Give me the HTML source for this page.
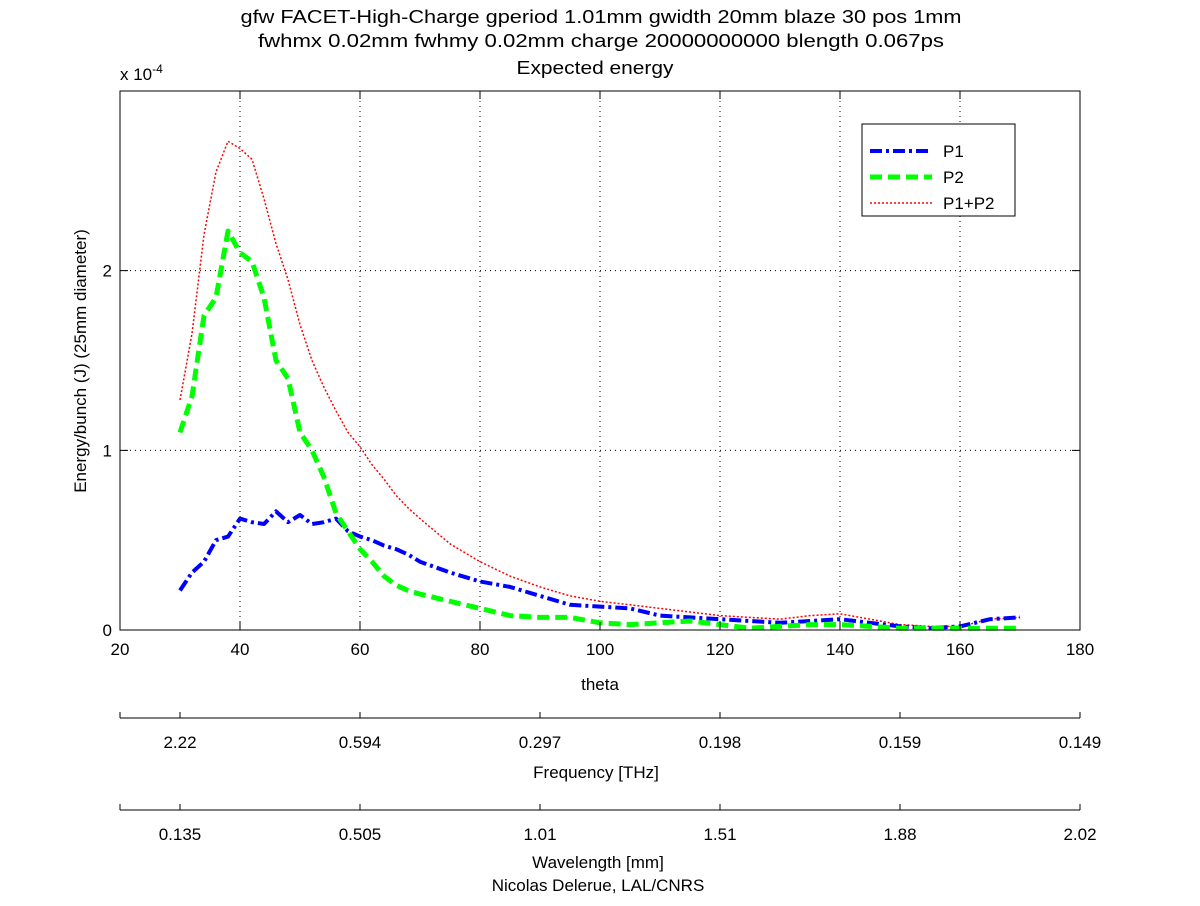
<!DOCTYPE html>
<html><head><meta charset="utf-8"><style>
body{margin:0;background:#fff;}
svg text{font-family:"Liberation Sans",sans-serif;font-size:17px;fill:#000;}
</style></head><body>
<svg width="1200" height="901" viewBox="0 0 1200 901">
<rect width="1200" height="901" fill="#fff"/>
<g id="titles">
<text x="601" y="23" text-anchor="middle" font-size="18" textLength="721" lengthAdjust="spacingAndGlyphs" style="font-size:18px">gfw FACET-High-Charge gperiod 1.01mm gwidth 20mm blaze 30 pos 1mm</text>
<text x="601" y="47" text-anchor="middle" textLength="686" lengthAdjust="spacingAndGlyphs" style="font-size:18px">fwhmx 0.02mm fwhmy 0.02mm charge 20000000000 blength 0.067ps</text>
<text x="595" y="74" text-anchor="middle" textLength="157" lengthAdjust="spacingAndGlyphs" style="font-size:18px">Expected energy</text>
</g>
<text x="120" y="80">x 10<tspan dy="-7" font-size="12">-4</tspan></text>
<g id="grid"></g>
<g id="series"></g>
<g id="axes"></g>
<text x="600" y="690" text-anchor="middle">theta</text>
<text transform="translate(86,361) rotate(-90)" text-anchor="middle">Energy/bunch (J) (25mm diameter)</text>
<g id="sec"></g>
<text x="596" y="778" text-anchor="middle">Frequency [THz]</text>
<text x="598" y="868" text-anchor="middle">Wavelength [mm]</text>
<text x="598" y="891" text-anchor="middle">Nicolas Delerue, LAL/CNRS</text>
<g>
<rect x="862" y="124" width="153" height="92" fill="#fff" stroke="#000" stroke-width="1"/>
<line x1="870" y1="151" x2="932" y2="151" stroke="#00f" stroke-width="4" stroke-dasharray="12,4,3,4"/>
<text x="943" y="157">P1</text>
<line x1="870" y1="177" x2="932" y2="177" stroke="#0f0" stroke-width="5" stroke-dasharray="12,6"/>
<text x="943" y="183">P2</text>
<line x1="870" y1="203" x2="932" y2="203" stroke="#f00" stroke-width="1.5" stroke-dasharray="2,2"/>
<text x="943" y="209">P1+P2</text>
</g>
</svg>
<script>
const xTicks=[20,40,60,80,100,120,140,160,180];
const yTicks=[0,1,2];
const theta=[30,32,34,36,38,40,42,44,46,48,50,52,54,56,58,60,62,64,66,68,70,75,80,85,90,95,100,105,110,115,120,125,130,135,140,145,150,155,160,165,170];
const p1=[0.22,0.32,0.38,0.5,0.52,0.62,0.6,0.59,0.66,0.6,0.64,0.59,0.6,0.62,0.55,0.52,0.5,0.47,0.45,0.42,0.38,0.32,0.27,0.24,0.19,0.14,0.13,0.12,0.08,0.07,0.06,0.05,0.04,0.05,0.06,0.04,0.02,0.01,0.02,0.06,0.07];
const p2=[1.1,1.3,1.75,1.85,2.22,2.1,2.05,1.85,1.5,1.4,1.1,1.0,0.85,0.65,0.55,0.45,0.38,0.3,0.25,0.22,0.2,0.16,0.12,0.08,0.07,0.07,0.04,0.03,0.04,0.05,0.03,0.01,0.02,0.03,0.03,0.02,0.01,0.01,0.01,0.01,0.01];
const psum=[1.28,1.65,2.2,2.55,2.72,2.68,2.62,2.4,2.15,1.95,1.7,1.5,1.35,1.22,1.1,1.02,0.92,0.84,0.75,0.68,0.62,0.48,0.38,0.3,0.24,0.19,0.16,0.14,0.12,0.1,0.08,0.07,0.06,0.08,0.09,0.06,0.03,0.02,0.02,0.06,0.07];
const freqLabels=["2.22","0.594","0.297","0.198","0.159","0.149"];
const waveLabels=["0.135","0.505","1.01","1.51","1.88","2.02"];
const secPos=[30,60,90,120,150,180];
const NS="http://www.w3.org/2000/svg";
const L=120,R=1080,T=91,B=630;
const X=v=>L+(v-20)/160*(R-L);
const Y=v=>B-v/3*(B-T);
function mk(tag,attrs,parent){const e=document.createElementNS(NS,tag);for(const k in attrs)e.setAttribute(k,attrs[k]);parent.appendChild(e);return e;}
const grid=document.getElementById('grid'),axes=document.getElementById('axes'),ser=document.getElementById('series'),sec=document.getElementById('sec');
xTicks.forEach(t=>{
 if(t>20&&t<180){const g=mk('line',{x1:X(t),x2:X(t),y1:T,y2:B,stroke:'#000','stroke-width':1,'stroke-dasharray':'1,4'},grid);
 }
 const tk=mk('path',{d:`M${X(t)},${B}v-8M${X(t)},${T}v8`,stroke:'#000'},axes);
 
 const lb=mk('text',{x:X(t),y:B+25,'text-anchor':'middle'},axes);lb.textContent=t;
 
});
yTicks.forEach(t=>{
 if(t>0){const g=mk('line',{x1:L,x2:R,y1:Y(t),y2:Y(t),stroke:'#000','stroke-width':1,'stroke-dasharray':'1,4'},grid);
 }
 const tk=mk('path',{d:`M${L},${Y(t)}h8M${R},${Y(t)}h-8`,stroke:'#000'},axes);
 
 const lb=mk('text',{x:L-8,y:Y(t)+6,'text-anchor':'end'},axes);lb.textContent=t;
 
});
const box=mk('rect',{x:L,y:T,width:R-L,height:B-T,fill:'none',stroke:'#000'},axes);

function line(vals,color,w,dash,name){
 const d=theta.map((t,i)=>(i?'L':'M')+X(t).toFixed(1)+','+Y(vals[i]).toFixed(1)).join('');
 const p=mk('path',{d:d,fill:'none',stroke:color,'stroke-width':w,'stroke-dasharray':dash,'stroke-linejoin':'round'},ser);
 
}
line(psum,'#f00',1.5,'2,2','line-p1-plus-p2');
line(p1,'#00f',4,'12,4,3,4','line-p1');
line(p2,'#0f0',5,'12,6','line-p2');
[[718,freqLabels,'frequency'],[810,waveLabels,'wavelength']].forEach(([y,labs,nm])=>{
 const a=mk('line',{x1:L,x2:R,y1:y,y2:y,stroke:'#000'},sec);
 
 mk('path',{d:`M${L},${y}v-6`,stroke:'#000'},sec);
 secPos.forEach((p,i)=>{
  const tk=mk('path',{d:`M${X(p)},${y}v-6`,stroke:'#000'},sec);
  
  const lb=mk('text',{x:X(p),y:y+30,'text-anchor':'middle'},sec);lb.textContent=labs[i];
  
 });
});
</script>
</body></html>
